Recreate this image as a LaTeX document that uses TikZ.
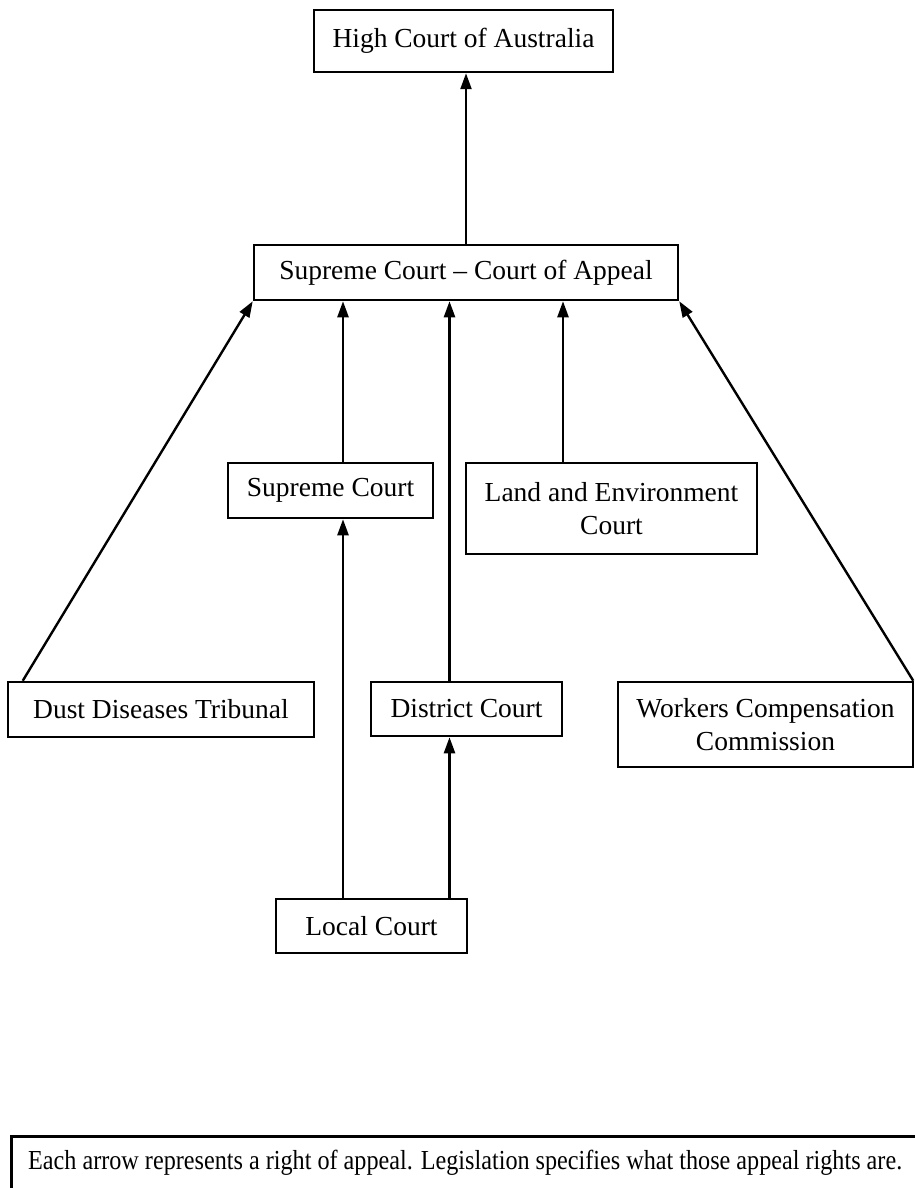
\documentclass[tikz,border=0pt]{standalone}
\usepackage{fontspec}
\setmainfont{Liberation Serif}
\usepackage{graphicx}
\usetikzlibrary{arrows.meta,calc}
\begin{document}
\begin{tikzpicture}[x=1pt,y=-1pt,
  court/.style={draw,line width=2.5pt,rectangle,inner sep=0pt,align=center,
    font=\fontsize{27.5}{33}\selectfont},
  arr/.style={line width=2.4pt,-{Triangle[length=16pt,width=11pt]}}]
\useasboundingbox (0,0) rectangle (915,1188);
\node[court,minimum width=299pt,minimum height=62pt] (hc) at (463.5,41) {High Court of Australia};
\node[court,minimum width=424pt,minimum height=55pt] (scca) at (466,272.5) {Supreme Court -- Court of Appeal};
\node[court,minimum width=205pt,minimum height=55pt] (sc) at (330.5,490.5) {Supreme Court};
\node[court,minimum width=291pt,minimum height=91pt] (lec) at (611.5,508.5) {Land and Environment\\Court};
\node[court,minimum width=306pt,minimum height=55pt] (ddt) at (161,709.5) {Dust Diseases Tribunal};
\node[court,minimum width=191pt,minimum height=54pt] (dc) at (466.5,709) {District Court};
\node[court,minimum width=295pt,minimum height=85pt] (wcc) at (765.5,724.5) {Workers Compensation\\Commission};
\node[court,minimum width=191pt,minimum height=54pt] (lc) at (371.5,926) {Local Court};
\coordinate (xa) at (343,0);
\coordinate (xb) at (449.5,0);
\coordinate (xc) at (563,0);
% arrows
\draw[arr] (scca.north) -- (scca.north |- hc.south);
\draw[arr] ($(ddt.north west)+(16,0)$) -- (scca.south west);
\draw[arr] ($(wcc.north east)+(-1,0)$) -- (scca.south east);
\draw[arr] (sc.north -| xa) -- (scca.south -| xa);
\draw[arr] (dc.north -| xb) -- (scca.south -| xb);
\draw[arr] (lec.north -| xc) -- (scca.south -| xc);
\draw[arr] (lc.north -| xa) -- (sc.south -| xa);
\draw[arr] (lc.north -| xb) -- (dc.south -| xb);
% note box
\node[draw,line width=2.5pt,rectangle,minimum width=925pt,minimum height=70pt,inner sep=0pt,anchor=north west] (note) at (10,1135) {};
\node[anchor=west,inner sep=0pt,font=\fontsize{27.5}{33}\selectfont] (notetext) at (28,1163)
  {\resizebox{874pt}{\height}{Each arrow represents a right of appeal. Legislation specifies what those appeal rights are.}};
\end{tikzpicture}
\end{document}
